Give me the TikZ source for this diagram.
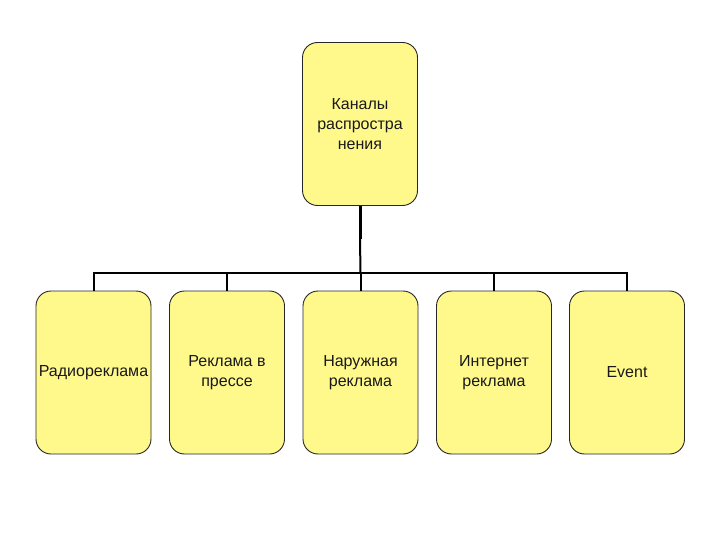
\documentclass[tikz,border=0pt]{standalone}
\usepackage{fontspec}
\setmainfont{Liberation Sans}
\begin{document}
\begin{tikzpicture}[x=1pt,y=-1pt,
  box/.style={draw=black!85,line width=0.9pt,fill=yellow!45!white,rounded corners=15pt,
    minimum width=115pt,minimum height=163pt,inner sep=0pt,align=center,
    font=\fontsize{16}{20}\selectfont,text=black!90},
  conn/.style={draw=black,line width=2pt}]
\useasboundingbox (0,0) rectangle (720,540);
\fill[white] (0,0) rectangle (720,540);
\node[box] (top) at (360,124) {Каналы\\распростра\\нения};
\node[box] (c1) at (93.5,372.5) {Радиореклама};
\node[box] (c2) at (227,372.5) {Реклама в\\прессе};
\node[box] (c3) at (360.5,372.5) {Наружная\\реклама};
\node[box] (c4) at (494,372.5) {Интернет\\реклама};
\node[box] (c5) at (627,372.5) {Event};
\coordinate (j) at (360.5,273);
\draw[conn,line width=3pt] (top.south) -- ++(0,33) coordinate (k);
\draw[conn] (k) -- (j);
\draw[conn] (c1.north) -- (c1.north |- j) -- (c5.north |- j) -- (c5.north);
\draw[conn] (c2.north) -- (c2.north |- j);
\draw[conn] (c3.north) -- (c3.north |- j);
\draw[conn] (c4.north) -- (c4.north |- j);
\end{tikzpicture}
\end{document}
